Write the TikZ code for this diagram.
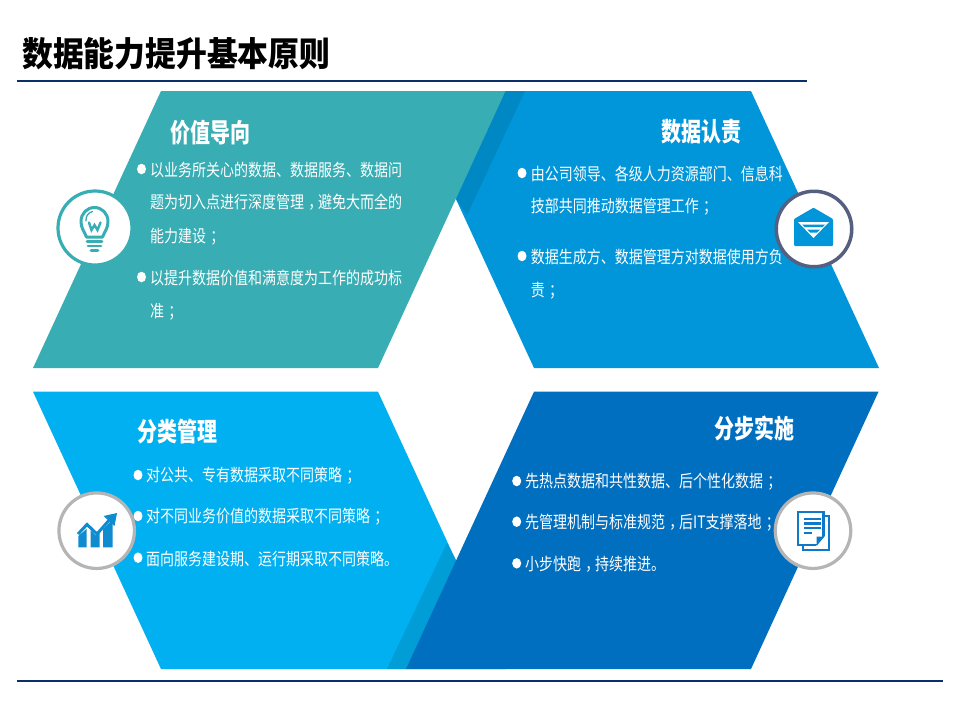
\documentclass[tikz,border=0pt]{standalone}
\usepackage{fontspec}
\newfontfamily\cjk{Noto Sans CJK SC}
\setmainfont{Noto Sans CJK SC}
\usepackage{graphicx}
\definecolor{cTeal}{HTML}{38ADB3}
\definecolor{cBlue}{HTML}{0096D9}
\definecolor{cBlueS}{HTML}{0088C4}
\definecolor{cLight}{HTML}{00B0F0}
\definecolor{cLightS}{HTML}{009DD7}
\definecolor{cDark}{HTML}{006FBF}
\definecolor{cRule}{HTML}{0B2F6B}
\definecolor{cRingA}{HTML}{555F7F}
\definecolor{cRingB}{HTML}{B5B5B5}
\definecolor{cIconC}{HTML}{0F8BD0}
\definecolor{cIconD}{HTML}{0F78C8}
\newcommand{\fs}{\kern0.3em；\kern-0.3em}
\newcommand{\fc}{\kern0.3em，\kern-0.3em}
\newcommand{\bodytxt}[1]{\scalebox{1}[1.22]{\fontsize{14}{14}\selectfont #1}}
\newcommand{\headtxt}[1]{\scalebox{1}[1.3]{\fontsize{20}{20}\selectfont\bfseries #1}}
\tikzset{
  x=1pt,y=-1pt,
  body/.style={anchor=west,inner sep=0pt,text=white},
  head/.style={anchor=center,inner sep=0pt,text=white},
  dot/.style={ellipse,fill=white,inner sep=0pt,minimum width=9pt,minimum height=10.5pt},
  ring/.style={circle,fill=white,inner sep=0pt,minimum size=74pt,line width=3.2pt},
  rule/.style={line width=2pt,color=cRule},
}
\usetikzlibrary{shapes.geometric}
\begin{document}
\begin{tikzpicture}
\useasboundingbox (0,0) rectangle (960,720);
\fill[white] (0,0) rectangle (960,720);
% title
\node[anchor=west,inner sep=0pt] (title) at (22,53.5) {\scalebox{1}[1.1]{\fontsize{30.8}{31}\selectfont\bfseries 数据能力提升基本原则}};
\coordinate (r1a) at (17,81); \coordinate (r1b) at (807,81);
\coordinate (r2a) at (17,680.5); \coordinate (r2b) at (943,680.5);
\draw[rule] (r1a) -- (r1b);
\draw[rule] (r2a) -- (r2b);
% panels
\fill[cBlue] (751,91) -- (879,368) -- (534,368) -- (406,91) -- cycle;
\fill[cBlueS] (505,91) -- (525,91) -- (467,215) -- (456,199) -- cycle;
\fill[cTeal] (161,91) -- (505.5,91) -- (378,368) -- (33,368) -- cycle;
\fill[cLight] (33,391.7) -- (378,391.7) -- (506,669) -- (161,669) -- cycle;
\fill[cLightS] (447,543) -- (456.5,561) -- (406,669) -- (387,669) -- cycle;
\fill[cDark] (534,391.7) -- (878.5,391.7) -- (751,669) -- (406,669) -- cycle;
% teal text
\node[head] (h1) at (210.5,132.5) {\headtxt{价值导向}};
\node[dot] (d1a) at (141.5,169) {};
\node[body] (t1a) at (150,170) {\bodytxt{以业务所关心的数据、数据服务、数据问}};
\node[body] (t1b) at (150,202.5) {\bodytxt{题为切入点进行深度管理\fc 避免大而全的}};
\node[body] (t1c) at (150,236.5) {\bodytxt{能力建设\fs}};
\node[dot] (d1b) at (141.5,277) {};
\node[body] (t1d) at (150,278) {\bodytxt{以提升数据价值和满意度为工作的成功标}};
\node[body] (t1e) at (150,311.5) {\bodytxt{准\fs}};
% blue text
\node[head] (h2) at (701.7,131.5) {\headtxt{数据认责}};
\node[dot] (d2a) at (522,173) {};
\node[body] (t2a) at (530.7,174) {\bodytxt{由公司领导、各级人力资源部门、信息科}};
\node[body] (t2b) at (530.7,207) {\bodytxt{技部共同推动数据管理工作\fs}};
\node[dot] (d2b) at (522,256) {};
\node[body] (t2c) at (530.7,257) {\bodytxt{数据生成方、数据管理方对数据使用方负}};
\node[body] (t2d) at (530.7,291) {\bodytxt{责\fs}};
% light text
\node[head] (h3) at (177.7,431.5) {\headtxt{分类管理}};
\node[dot] (d3a) at (138,475) {};
\node[body] (t3a) at (146,476) {\bodytxt{对公共、专有数据采取不同策略\fs}};
\node[dot] (d3b) at (138,516) {};
\node[body] (t3b) at (146,517) {\bodytxt{对不同业务价值的数据采取不同策略\fs}};
\node[dot] (d3c) at (138,557.7) {};
\node[body] (t3c) at (146,558.7) {\bodytxt{面向服务建设期、运行期采取不同策略。}};
% dark text
\node[head] (h4) at (754,428.5) {\headtxt{分步实施}};
\node[dot] (d4a) at (516.7,481) {};
\node[body] (t4a) at (525,482) {\bodytxt{先热点数据和共性数据、后个性化数据\fs}};
\node[dot] (d4b) at (516.7,521.7) {};
\node[body] (t4b) at (525,522.7) {\bodytxt{先管理机制与标准规范\fc 后IT支撑落地\fs}};
\node[dot] (d4c) at (516.7,563.3) {};
\node[body] (t4c) at (525,564.3) {\bodytxt{小步快跑\fc 持续推进。}};
% rings
\node[ring,draw=cTeal] (c1) at (95,228) {};
\node[ring,draw=cRingA,minimum size=75.5pt,line width=3.5pt] (c2) at (814,229) {};
\node[ring,draw=cRingB,minimum size=75.5pt] (c3) at (96.7,530.7) {};
\node[ring,draw=cRingB,minimum size=75.5pt] (c4) at (813,530.7) {};
% bulb
\begin{scope}[cTeal,line cap=round,line join=round]
\draw[line width=3pt] (86.5,237) .. controls (84,231) and (81,228) .. (81,221.5)
  .. controls (81,213.5) and (87,207.5) .. (94.5,207.5)
  .. controls (102,207.5) and (108,213.5) .. (108,221.5)
  .. controls (108,228) and (105,231) .. (102.5,237) -- cycle;
\draw[line width=1.3pt] (86,221) .. controls (85.5,216) and (88.5,212.5) .. (92.5,211.5);
\draw[line width=2.4pt,line join=miter] (89,222.5) -- (91.5,230) -- (94.5,225) -- (97.5,230) -- (100.5,222.5);
\draw[line width=2.8pt] (87,241.7) -- (102,241.7);
\draw[line width=2.8pt] (88,246) -- (101,246);
\draw[line width=2.8pt] (91,250.5) -- (98,250.5);
\end{scope}
% envelope
\fill[cBlue,rounded corners=1pt] (794,219) -- (813.5,207.7) -- (833,219) -- (833,246) -- (794,246) -- cycle;
\fill[white] (798,222) -- (829,222) -- (813.5,238) -- cycle;
\fill[cBlue] (802,224.5) -- (825,224.5) -- (822.5,227) -- (804.5,227) -- cycle;
\fill[cBlue] (807,229.5) -- (820,229.5) -- (817,232.5) -- (810,232.5) -- cycle;
% chart
\begin{scope}[cIconC]
\fill (78.3,547.3) -- (78.3,536) -- (86.5,529) -- (86.5,547.3) -- cycle;
\fill (90.5,547.3) -- (90.5,530) -- (96,535.5) -- (99.5,533) -- (99.5,547.3) -- cycle;
\fill (103,547.3) -- (103,529) -- (112.5,519.5) -- (112.5,547.3) -- cycle;
\draw[line width=3pt] (78,534) -- (87,524.5) -- (97,534) -- (111,518);
\fill (117,513) -- (114.5,526) -- (103.5,516) -- cycle;
\end{scope}
% document
\begin{scope}[cIconD]
\draw[line width=2pt] (803,546) -- (803,550) -- (828.5,550) -- (828.5,516) -- (824.5,516);
\fill (797,511) rectangle (824.5,546);
\fill[white] (799.2,513.2) rectangle (822.3,543.8);
\fill[white] (805,546.5) -- (816,546.5) -- (816,548.8) -- (805,548.8) -- cycle;
\fill (804,517.6) rectangle (821,520);
\fill (804,522.2) rectangle (821,524.6);
\fill (804,526.8) rectangle (821,529.2);
\fill (804,531.8) rectangle (811.5,534.2);
\fill[white] (816,546) -- (825,546) -- (825,536) -- cycle;
\fill (816.5,536.5) -- (824.5,536.5) -- (816.5,546) -- cycle;
\end{scope}
\end{tikzpicture}
\end{document}
